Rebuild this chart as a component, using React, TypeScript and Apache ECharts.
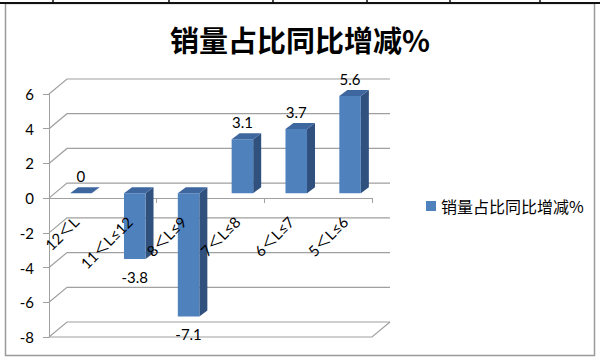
import React, { useEffect, useRef } from "react";
import * as echarts from "echarts";

const titleText = "销量占比同比增减%";
const seriesName = "销量占比同比增减%";
const categories = ["12＜L", "11＜L≤12", "8＜L≤9", "7＜L≤8", "6＜L≤7", "5＜L≤6"];
const values = [0, -3.8, -7.1, 3.1, 3.7, 5.6];
const yTickValues = [-8, -6, -4, -2, 0, 2, 4, 6];
const yMin = -8;
const yMax = 6;
const yInterval = 2;
const cellTickXs = [53, 169, 273, 367, 450, 540];

// 3D look constants
const WALL_DX = 18;
const WALL_DY = -15;
const BAR_OX = 5;
const BAR_OY = -5;
const BAR_DX = 8;
const BAR_DY = -6;

const FRONT = "#4F81BD";
const TOP = "#3E67A0";
const SIDE = "#30507E";
const GRID_GRAY = "#A0A0A0";
const NUM_FONT = "Lato, 'Noto Sans CJK SC', sans-serif";
const CJK_FONT = "'Noto Sans CJK SC', sans-serif";

export default function App() {
  const ref = useRef<HTMLDivElement>(null);
  useEffect(() => {
    if (!ref.current) return;
    const chart = echarts.init(ref.current, null, { renderer: "svg" });
    const option: any = {
      animation: false,
      backgroundColor: "#ffffff",
      title: {
        text: titleText,
        left: "center",
        top: 19,
        textStyle: { fontSize: 29, fontWeight: "bold", fontFamily: CJK_FONT, color: "#000" },
      },
      legend: {
        data: [{ name: seriesName, icon: "rect" }],
        left: 421,
        top: 193,
        itemWidth: 10,
        itemHeight: 10,
        textStyle: { fontSize: 16, fontFamily: CJK_FONT, color: "#000" },
      },
      grid: [
        { left: 49, top: 94, width: 323, height: 243, containLabel: false, outerBoundsMode: "none" },
        { left: 49, top: 94, width: 323, height: 104, containLabel: false, outerBoundsMode: "none" },
      ],
      xAxis: [
        {
          type: "category",
          gridIndex: 0,
          data: categories,
          show: false,
        },
        {
          type: "category",
          gridIndex: 1,
          data: categories,
          position: "bottom",
          z: 0,
          axisLine: { onZero: false, lineStyle: { color: GRID_GRAY, width: 1 } },
          axisTick: { show: true, length: 5, lineStyle: { color: GRID_GRAY } },
          axisLabel: { show: false },
          splitLine: { show: false },
        },
        {
          type: "category",
          gridIndex: 1,
          data: categories,
          position: "bottom",
          offset: 0,
          z: 10,
          axisLine: { show: false, onZero: false },
          axisTick: { show: false },
          axisLabel: {
            rotate: 45,
            margin: 21,
            fontSize: 15,
            fontFamily: NUM_FONT,
            color: "#000",
            interval: 0,
          },
          splitLine: { show: false },
        },
      ],
      yAxis: [
        {
          type: "value",
          gridIndex: 0,
          min: yMin,
          max: yMax,
          interval: yInterval,
          axisLine: { show: true, lineStyle: { color: GRID_GRAY, width: 1 } },
          axisTick: { show: true, length: 6, lineStyle: { color: GRID_GRAY } },
          axisLabel: { margin: 15, fontSize: 15, fontFamily: NUM_FONT, color: "#000" },
          splitLine: { show: false },
        },
        {
          type: "value",
          gridIndex: 1,
          min: 0,
          max: 1,
          show: false,
        },
      ],
      graphic: [
        {
          type: "rect",
          shape: { x: 5.5, y: 3.5, width: 589, height: 352 },
          style: { fill: "none", stroke: "#9A9A9A", lineWidth: 1.5 },
          silent: true,
        },
        {
          type: "line",
          shape: { x1: 0, y1: 3, x2: 600, y2: 3 },
          style: { stroke: "#111", lineWidth: 2 },
          silent: true,
        },
        ...cellTickXs.map((x) => ({
          type: "line",
          shape: { x1: x, y1: 0, x2: x, y2: 3 },
          style: { stroke: "#111", lineWidth: 1.5 },
          silent: true,
        })),
      ],
      series: [
        {
          type: "custom",
          name: "wall",
          z: 1,
          silent: true,
          xAxisIndex: 0,
          yAxisIndex: 0,
          legendHoverLink: false,
          encode: { x: 0, y: 1 },
          data: yTickValues.map((v) => [0, v]),
          renderItem: (params: any, api: any) => {
            const v = api.value(1);
            const cs = params.coordSys;
            const y = api.coord([0, v])[1];
            const left = cs.x;
            const right = cs.x + cs.width;
            const children: any[] = [
              {
                type: "polyline",
                shape: {
                  points: [
                    [left, y],
                    [left + WALL_DX, y + WALL_DY],
                    [right + WALL_DX, y + WALL_DY],
                  ],
                },
                style: { stroke: GRID_GRAY, lineWidth: 1.2, fill: "none" },
              },
            ];
            if (v === yMin) {
              children.push({
                type: "polyline",
                shape: {
                  points: [
                    [left, y],
                    [right, y],
                    [right + WALL_DX, y + WALL_DY],
                  ],
                },
                style: { stroke: GRID_GRAY, lineWidth: 1.2, fill: "none" },
              });
            }
            return { type: "group", children };
          },
        },
        {
          type: "custom",
          name: seriesName,
          z: 3,
          xAxisIndex: 0,
          yAxisIndex: 0,
          itemStyle: { color: FRONT },
          encode: { x: 0, y: 1 },
          data: values.map((v, i) => [i, v]),
          renderItem: (params: any, api: any) => {
            const i = api.value(0);
            const v = api.value(1);
            const base = api.coord([i, 0]);
            const end = api.coord([i, v]);
            const bw = api.size([1, 0])[0];
            const w = bw * 0.4;
            const cx = base[0] + BAR_OX;
            const yTop = Math.min(base[1], end[1]) + BAR_OY;
            const yBot = Math.max(base[1], end[1]) + BAR_OY;
            const x0 = cx - w / 2;
            const x1 = cx + w / 2;
            const children: any[] = [
              {
                type: "polygon",
                shape: {
                  points: [
                    [x1, yTop],
                    [x1 + BAR_DX, yTop + BAR_DY],
                    [x1 + BAR_DX, yBot + BAR_DY],
                    [x1, yBot],
                  ],
                },
                style: { fill: SIDE },
              },
              {
                type: "rect",
                shape: { x: x0, y: yTop, width: w, height: yBot - yTop },
                style: { fill: FRONT },
              },
              {
                type: "polygon",
                shape: {
                  points: [
                    [x0, yTop],
                    [x0 + BAR_DX, yTop + BAR_DY],
                    [x1 + BAR_DX, yTop + BAR_DY],
                    [x1, yTop],
                  ],
                },
                style: { fill: TOP },
              },
              {
                type: "text",
                style: {
                  text: String(v),
                  x: cx,
                  y: v >= 0 ? yTop - 17 : yBot + 18,
                  align: "center",
                  verticalAlign: "middle",
                  fontSize: 15,
                  fontFamily: NUM_FONT,
                  fill: "#000",
                },
              },
            ];
            return { type: "group", children };
          },
        },
      ],
    };
    chart.setOption(option);
    return () => chart.dispose();
  }, []);
  return (
    <div
      ref={ref}
      style={{ position: "fixed", left: 0, top: 0, width: 600, height: 362, background: "#fff" }}
    />
  );
}
